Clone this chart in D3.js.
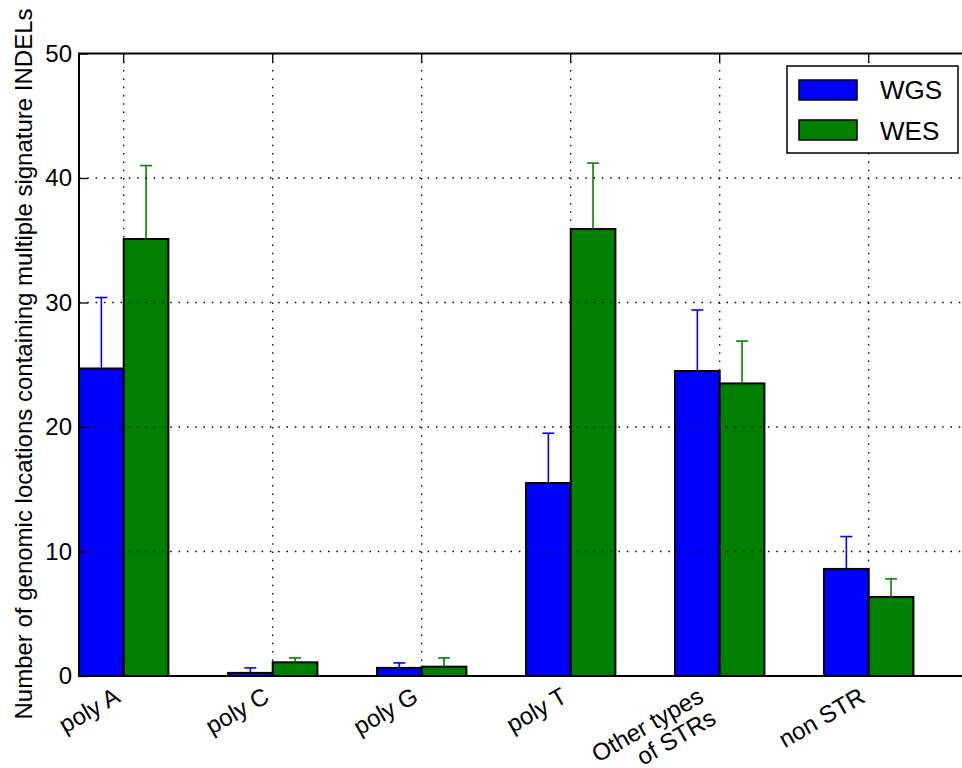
<!DOCTYPE html>
<html>
<head>
<meta charset="utf-8">
<script src="https://cdn.jsdelivr.net/npm/d3@7"></script>
<style>
  html, body { margin: 0; padding: 0; background: #fff; }
  svg { display: block; font-family: "Liberation Sans", Arial, sans-serif; }
</style>
</head>
<body>
<svg id="chart" width="962" height="768"></svg>
<script>
// data
const categories = ["poly A", "poly C", "poly G", "poly T", "Other types\nof STRs", "non STR"];
const wgsValues = [24.7, 0.25, 0.65, 15.5, 24.5, 8.6];
const wgsErrors = [5.7, 0.4, 0.4, 4.0, 4.9, 2.6];
const wesValues = [35.1, 1.1, 0.75, 35.9, 23.5, 6.35];
const wesErrors = [5.9, 0.35, 0.7, 5.3, 3.4, 1.45];
const yTicks = [0, 10, 20, 30, 40, 50];
const seriesNames = ["WGS", "WES"];
const seriesColors = ["#0000ff", "#008000"];

const svg = d3.select("#chart");

// axes box (right side runs off the picture, like the original)
const plotLeft = 79, plotTop = 53.5, plotBottom = 676;
const unit = 149;      // px per category slot
const barW = 0.3;      // bar width in data units
const fontSize = 24;

const x = d3.scaleLinear().domain([0, 6]).range([plotLeft, plotLeft + 6 * unit]);
const y = d3.scaleLinear().domain([0, 50]).range([plotBottom, plotTop]);
const plotRight = x(6);

const series = [
  { name: seriesNames[0], values: wgsValues, errors: wgsErrors, color: seriesColors[0], offset: 0 },
  { name: seriesNames[1], values: wesValues, errors: wesErrors, color: seriesColors[1], offset: barW }
];

// 1) bars
series.forEach(s => {
  svg.append("g").selectAll("rect")
    .data(s.values)
    .enter().append("rect")
    .attr("x", (d, i) => x(i + s.offset))
    .attr("y", d => y(d))
    .attr("width", x(barW) - x(0))
    .attr("height", d => y(0) - y(d))
    .attr("fill", s.color)
    .attr("stroke", "#000")
    .attr("stroke-width", 2);
});

// 2) error bars (upper half only)
series.forEach(s => {
  const g = svg.append("g");
  s.values.forEach((v, i) => {
    const cx = x(i + s.offset + barW / 2);
    g.append("line")
      .attr("x1", cx).attr("x2", cx)
      .attr("y1", y(v)).attr("y2", y(v + s.errors[i]))
      .attr("stroke", s.color).attr("stroke-width", 1.6);
    g.append("line")
      .attr("x1", cx - 6).attr("x2", cx + 6)
      .attr("y1", y(v + s.errors[i])).attr("y2", y(v + s.errors[i]))
      .attr("stroke", s.color).attr("stroke-width", 1.6);
  });
});

// 3) dotted grid on top of the bars
const tickXs = categories.map((c, i) => i + barW);
const grid = svg.append("g")
  .attr("stroke", "#000").attr("stroke-width", 1.3)
  .attr("stroke-dasharray", "1.5,6.8");
grid.selectAll("line.h").data(yTicks.slice(1, -1)).enter().append("line")
  .attr("x1", plotLeft).attr("x2", plotRight)
  .attr("y1", d => y(d)).attr("y2", d => y(d));
grid.selectAll("line.v").data(tickXs).enter().append("line")
  .attr("x1", d => x(d)).attr("x2", d => x(d))
  .attr("y1", plotTop).attr("y2", plotBottom);

// 4) y axis: inward ticks, labels on the left
const yAxis = d3.axisLeft(y).tickValues(yTicks).tickSize(-9).tickPadding(7);
const yg = svg.append("g").attr("transform", `translate(${plotLeft},0)`).call(yAxis);
yg.select(".domain").remove();
yg.selectAll(".tick line").attr("stroke", "#000").attr("stroke-width", 1.3);
yg.selectAll(".tick text")
  .attr("font-size", fontSize)
  .attr("font-family", "Liberation Sans, Arial, sans-serif")
  .attr("fill", "#000");

// x ticks, inward at top and bottom
const xTickG = svg.append("g").attr("stroke", "#000").attr("stroke-width", 1.3);
tickXs.forEach(t => {
  xTickG.append("line").attr("x1", x(t)).attr("x2", x(t)).attr("y1", plotBottom).attr("y2", plotBottom - 9);
  xTickG.append("line").attr("x1", x(t)).attr("x2", x(t)).attr("y1", plotTop).attr("y2", plotTop + 9);
});

// axes frame
svg.append("rect")
  .attr("x", plotLeft).attr("y", plotTop)
  .attr("width", plotRight - plotLeft).attr("height", plotBottom - plotTop)
  .attr("fill", "none").attr("stroke", "#000").attr("stroke-width", 2);

// 5) rotated category labels, right aligned on the tick
const lineStep = 25, sin30 = 0.5;
categories.forEach((label, i) => {
  const lines = label.split("\n");
  const n = lines.length;
  const endX = x(tickXs[i]) - 2;
  const firstX = endX - (n - 1) * lineStep * sin30;
  const firstY = 701;
  const t = svg.append("text")
    .attr("transform", `translate(${firstX},${firstY}) rotate(-30)`)
    .attr("text-anchor", "end")
    .attr("font-size", fontSize)
    .attr("fill", "#000");
  lines.forEach((ln, k) => {
    t.append("tspan").attr("x", 0).attr("dy", k === 0 ? 0 : lineStep).text(ln);
  });
});

// 6) y axis title
svg.append("text")
  .attr("transform", `translate(32,364) rotate(-90)`)
  .attr("text-anchor", "middle")
  .attr("font-size", fontSize)
  .attr("fill", "#000")
  .text("Number of genomic locations containing multiple signature INDELs");

// 7) legend
const legend = svg.append("g");
legend.append("rect")
  .attr("x", 787).attr("y", 66).attr("width", 171).attr("height", 87)
  .attr("fill", "#fff").attr("stroke", "#000").attr("stroke-width", 1.5);
series.forEach((s, k) => {
  legend.append("rect")
    .attr("x", 799).attr("y", 80 + k * 40).attr("width", 58).attr("height", 20)
    .attr("fill", s.color).attr("stroke", "#000").attr("stroke-width", 1.5);
  legend.append("text")
    .attr("x", 880).attr("y", 98.5 + k * 41)
    .attr("font-size", 26).attr("fill", "#000")
    .text(s.name);
});
</script>
</body>
</html>
